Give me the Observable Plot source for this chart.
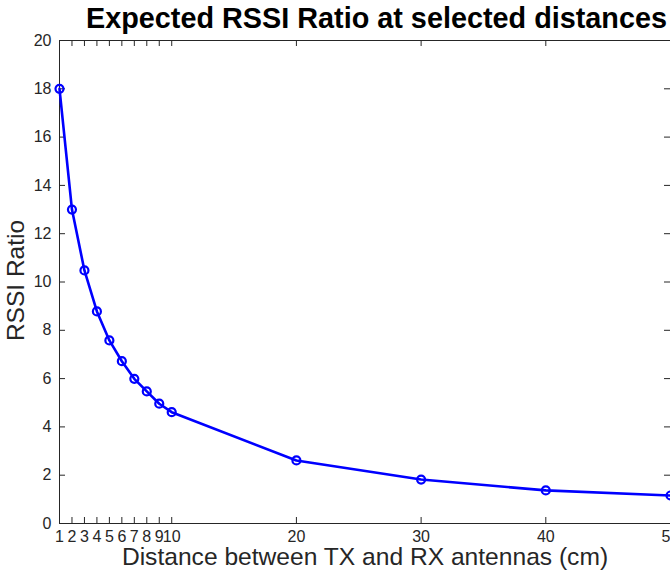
<!DOCTYPE html>
<html>
<head>
<meta charset="utf-8">
<script src="https://cdn.jsdelivr.net/npm/d3@7"></script>
<script src="https://cdn.jsdelivr.net/npm/@observablehq/plot@0.6"></script>
<style>
  html, body { margin: 0; padding: 0; background: #fff; }
  #chart svg { display: block; }
</style>
</head>
<body>
<div id="chart"></div>
<script>
const distances = [1, 2, 3, 4, 5, 6, 7, 8, 9, 10, 20, 30, 40, 50];
const ratios = [18.0, 13.0, 10.48, 8.78, 7.58, 6.72, 5.99, 5.47, 4.96, 4.61, 2.61, 1.82, 1.37, 1.16];
const xTicks = [1, 2, 3, 4, 5, 6, 7, 8, 9, 10, 20, 30, 40, 50];
const yTicks = [0, 2, 4, 6, 8, 10, 12, 14, 16, 18, 20];
const titleText = "Expected RSSI Ratio at selected distances";
const xLabel = "Distance between TX and RX antennas (cm)";
const yLabel = "RSSI Ratio";

const data = distances.map((d, i) => ({x: d, y: ratios[i]}));

const W = 670, H = 574;
const mL = 59, mR = 0, mT = 40, mB = 51;
const fw = W - mL - mR, fh = H - mT - mB;
const tick = 6;
const font = "Liberation Sans, Arial, Helvetica, sans-serif";
const axisColor = "#262626";

const chart = Plot.plot({
  width: W,
  height: H,
  marginLeft: mL,
  marginRight: mR,
  marginTop: mT,
  marginBottom: mB,
  style: {fontFamily: font, background: "#fff", overflow: "visible"},
  x: {domain: [1, 50], type: "linear"},
  y: {domain: [0, 20]},
  marks: [
    Plot.frame({stroke: axisColor, strokeWidth: 1}),
    // inward ticks bottom & top
    Plot.tickX(xTicks, {x: d => d, insetTop: fh - tick, stroke: axisColor}),
    Plot.tickX(xTicks, {x: d => d, insetBottom: fh - tick, stroke: axisColor}),
    // inward ticks left & right
    Plot.tickY(yTicks, {y: d => d, insetRight: fw - tick, stroke: axisColor}),
    Plot.tickY(yTicks, {y: d => d, insetLeft: fw - tick, stroke: axisColor}),
    Plot.axisX({ticks: xTicks, tickSize: 0, tickPadding: 7, fontSize: 16, color: axisColor, label: null, tickFormat: d => String(d)}),
    Plot.axisY({ticks: yTicks, tickSize: 0, tickPadding: 8, fontSize: 16, color: axisColor, label: null}),
    Plot.line(data, {x: "x", y: "y", stroke: "#0000ff", strokeWidth: 2.6}),
    Plot.dot(data, {x: "x", y: "y", r: 4, stroke: "#0000ff", strokeWidth: 2.2, fill: "none"}),
    Plot.text([titleText], {text: d => d, frameAnchor: "top", textAnchor: "middle", dy: -22, dx: 11.5, fontSize: 28.8, fontWeight: "bold", fill: "#000", lineAnchor: "middle"}),
    Plot.text([xLabel], {text: d => d, frameAnchor: "bottom", textAnchor: "middle", dy: 34, fontSize: 24.6, fill: axisColor, lineAnchor: "middle"}),
    Plot.text([yLabel], {text: d => d, frameAnchor: "left", textAnchor: "middle", dx: -43, dy: -1.5, rotate: -90, fontSize: 24.5, fill: axisColor, lineAnchor: "middle"})
  ]
});
document.getElementById("chart").appendChild(chart);
</script>
</body>
</html>
